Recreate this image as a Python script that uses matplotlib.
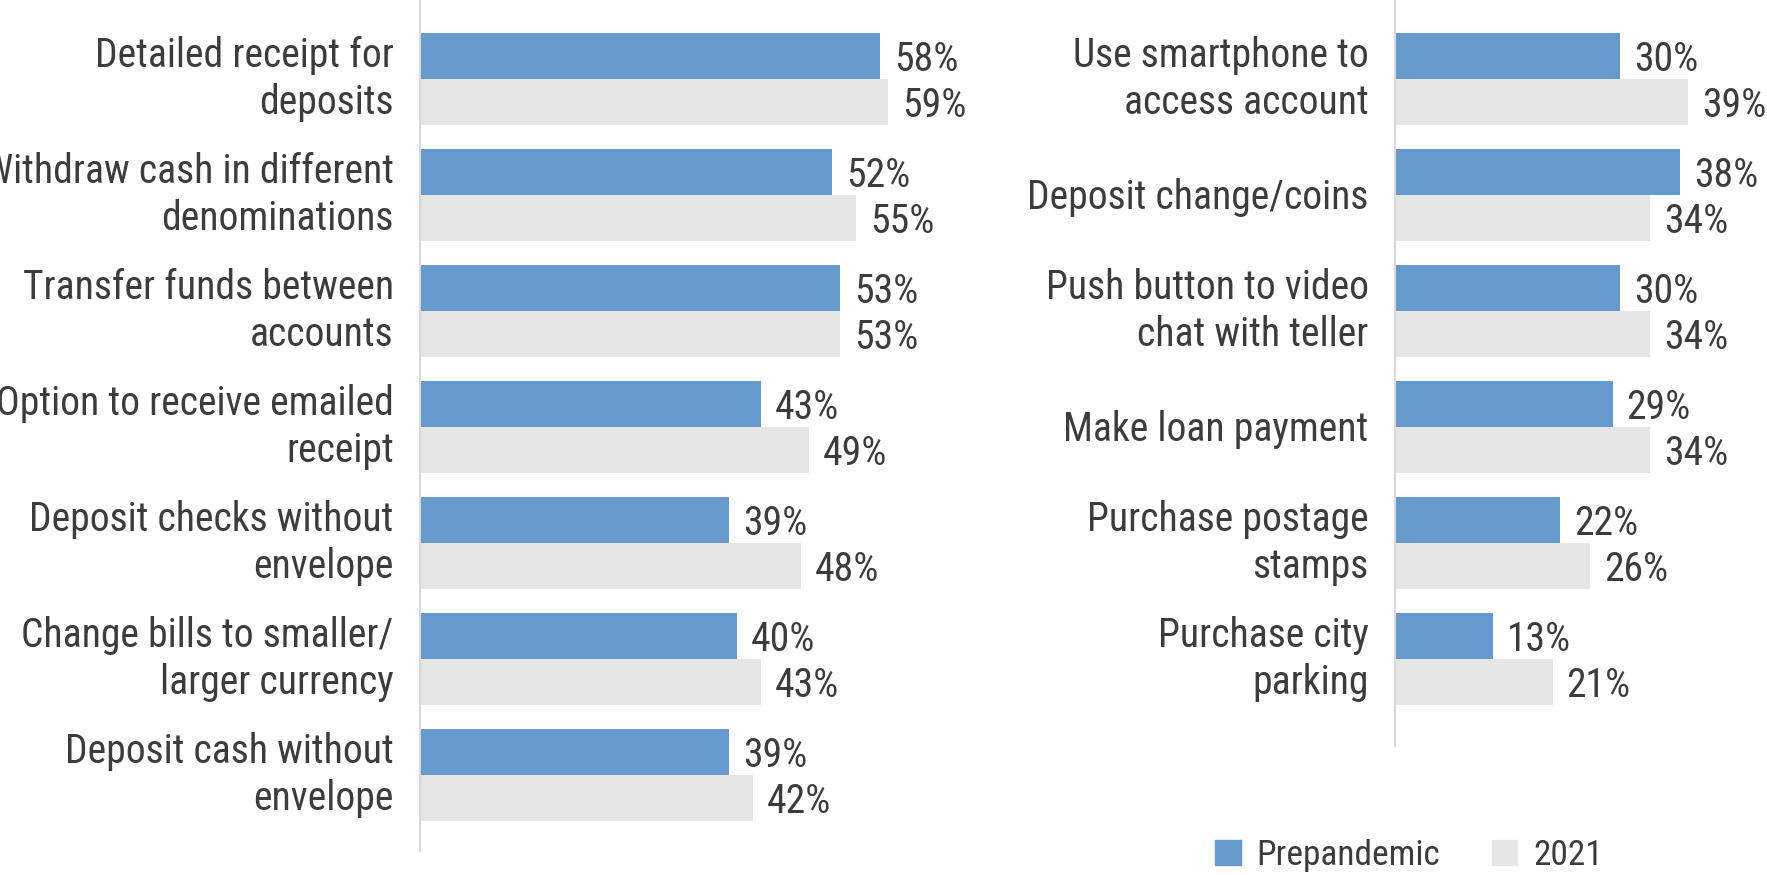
import matplotlib
matplotlib.use("Agg")
import matplotlib.pyplot as plt
from matplotlib.patches import Patch
from matplotlib.transforms import ScaledTranslation

plt.rcParams['font.family'] = ['Roboto Condensed', 'Archivo Narrow', 'DejaVu Sans']

left_labels = ["Detailed receipt for\ndeposits",
               "Withdraw cash in different\ndenominations",
               "Transfer funds between\naccounts",
               "Option to receive emailed\nreceipt",
               "Deposit checks without\nenvelope",
               "Change bills to smaller/\nlarger currency",
               "Deposit cash without\nenvelope"]
left_pre = [58, 52, 53, 43, 39, 40, 39]
left_2021 = [59, 55, 53, 49, 48, 43, 42]

right_labels = ["Use smartphone to\naccess account",
                "Deposit change/coins",
                "Push button to video\nchat with teller",
                "Make loan payment",
                "Purchase postage\nstamps",
                "Purchase city\nparking"]
right_pre = [30, 38, 30, 29, 22, 13]
right_2021 = [39, 34, 34, 34, 26, 21]

BLUE = "#6699cc"
GREY = "#e6e6e6"
TEXT = "#3c3c3c"
FS = 28.5

fig = plt.figure(figsize=(17.67, 8.75), dpi=100)
ax1 = fig.add_axes([0.2377, 0.0274, 0.2917, 0.9726])
ax2 = fig.add_axes([0.7895, 0.1474, 0.2111, 0.8526])


def draw(ax, labels, pre, cur, xmax, ybottom):
    pos = list(range(len(labels)))
    b1 = ax.barh([p - 0.2 for p in pos], pre, height=0.4, color=BLUE)
    b2 = ax.barh([p + 0.2 for p in pos], cur, height=0.4, color=GREY)
    for bars in (b1, b2):
        anns = ax.bar_label(bars, labels=[f"{v}%" for v in bars.datavalues],
                            padding=10, fontsize=FS, color=TEXT)
        for a in anns:
            a.xyann = (10, -2.5)
    ax.set_xlim(0, xmax)
    ax.set_ylim(ybottom, -0.681)
    ax.tick_params(axis='y', length=0, pad=19)
    ax.set_yticks(pos)
    ax.set_yticklabels(labels, fontsize=FS, color=TEXT, linespacing=1.25)
    # nudge wrapped labels up so both lines sit centred on the bar pair
    for tick, lab in zip(ax.yaxis.get_major_ticks(), labels):
        dy = 8 if "\n" in lab else 2
        tick.label1.set_transform(tick.label1.get_transform()
                                  + ScaledTranslation(0, dy / 100, fig.dpi_scale_trans))
    ax.set_xticks([])
    for s in ("top", "right", "bottom"):
        ax.spines[s].set_visible(False)
    ax.spines["left"].set_color("#d9d9d9")
    ax.spines["left"].set_linewidth(1.5)


draw(ax1, left_labels, left_pre, left_2021, 65, 6.655)
draw(ax2, right_labels, right_pre, right_2021, 49.7, 5.75)

handles = [Patch(color=BLUE, label="Prepandemic"), Patch(color=GREY, label="2021")]
fig.legend(handles=handles, loc="center left", bbox_to_anchor=(1215 / 1767, 1 - 855.5 / 875),
           ncol=2, frameon=False, fontsize=25.5, handlelength=0.72, handleheight=0.72,
           handletextpad=0.45, columnspacing=1.45, borderpad=0, borderaxespad=0,
           labelcolor=TEXT)

fig.savefig("out.png", dpi=100)
